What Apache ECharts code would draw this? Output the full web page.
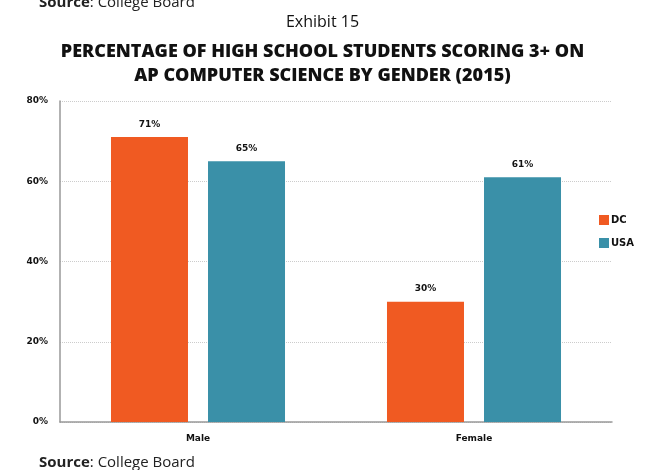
<!DOCTYPE html>
<html>
<head>
<meta charset="UTF-8"/>
<script type="text/javascript" src="https://cdn.jsdelivr.net/npm/echarts@6/dist/echarts.min.js"></script>
<title>Exhibit 15</title>
<style>
  html, body { margin: 0; padding: 0; background: #fff; }
  #main { width: 645px; height: 470px; }
</style>
</head>
<body>
<div id="main"></div>
<script type="text/javascript">
    // data
    var categories = ['Male', 'Female']
    var dcValues = [71, 30]
    var usaValues = [65, 61]
    var yTicks = [0, 20, 40, 60, 80]

    var labelFont = 'DejaVu Sans'
    var textFont = 'Open Sans'

    var myChart = echarts.init(document.getElementById('main'))

    var titleStyle = {fontFamily: textFont, fontSize: 18, fontWeight: 800, color: '#111'}

    var option = {
        backgroundColor: '#fff',
        title: [
            {
                text: '{b|Source}: College Board',
                left: 34, top: -10,
                textStyle: {fontFamily: textFont, fontSize: 15, fontWeight: 'normal', color: '#222',
                    rich: {b: {fontFamily: textFont, fontSize: 15, fontWeight: 'bold', color: '#222'}}}
            },
            {
                text: 'Exhibit 15',
                left: 'center', top: 9,
                textStyle: {fontFamily: textFont, fontSize: 16, fontWeight: 'normal', color: '#111'}
            },
            {
                text: 'PERCENTAGE OF HIGH SCHOOL STUDENTS SCORING 3+ ON',
                left: 'center', top: 38,
                textStyle: titleStyle
            },
            {
                text: 'AP COMPUTER SCIENCE BY GENDER (2015)',
                left: 'center', top: 62,
                textStyle: titleStyle
            },
            {
                text: '{b|Source}: College Board',
                left: 34, top: 450,
                textStyle: {fontFamily: textFont, fontSize: 15, fontWeight: 'normal', color: '#222',
                    rich: {b: {fontFamily: textFont, fontSize: 15, fontWeight: 'bold', color: '#222'}}}
            }
        ],
        legend: {
            orient: 'vertical',
            left: 594, top: 210,
            itemWidth: 10, itemHeight: 10, itemGap: 13,
            icon: 'rect',
            textStyle: {fontFamily: labelFont, fontSize: 10, fontWeight: 'bold', color: '#111', padding: [0, 0, 0, -3]},
            data: ['DC', 'USA']
        },
        grid: {left: 60, right: 33, top: 101, bottom: 48},
        xAxis: {
            type: 'category',
            data: categories,
            axisLine: {lineStyle: {color: '#999', width: 1.5}},
            axisTick: {show: false},
            axisLabel: {fontFamily: labelFont, fontSize: 9, fontWeight: 'bold', color: '#111', margin: 12}
        },
        yAxis: {
            type: 'value',
            min: yTicks[0], max: yTicks[yTicks.length - 1], interval: 20,
            axisLine: {show: true, lineStyle: {color: '#999', width: 1.5}},
            axisTick: {show: false},
            splitLine: {lineStyle: {color: '#ccc', type: 'dotted'}},
            axisLabel: {
                fontFamily: labelFont, fontSize: 9, fontWeight: 'bold', color: '#111', margin: 12,
                formatter: '{value}%'
            }
        },
        series: [
            {
                name: 'DC', type: 'bar', data: dcValues,
                barWidth: 77, barGap: '26%',
                itemStyle: {color: '#F05A22'},
                label: {show: true, position: 'top', distance: 8, formatter: '{c}%',
                    fontFamily: labelFont, fontSize: 9, fontWeight: 'bold', color: '#111'}
            },
            {
                name: 'USA', type: 'bar', data: usaValues,
                barWidth: 77,
                itemStyle: {color: '#3A90A8'},
                label: {show: true, position: 'top', distance: 8, formatter: '{c}%',
                    fontFamily: labelFont, fontSize: 9, fontWeight: 'bold', color: '#111'}
            }
        ]
    }

    myChart.setOption(option)
</script>
</body>
</html>
